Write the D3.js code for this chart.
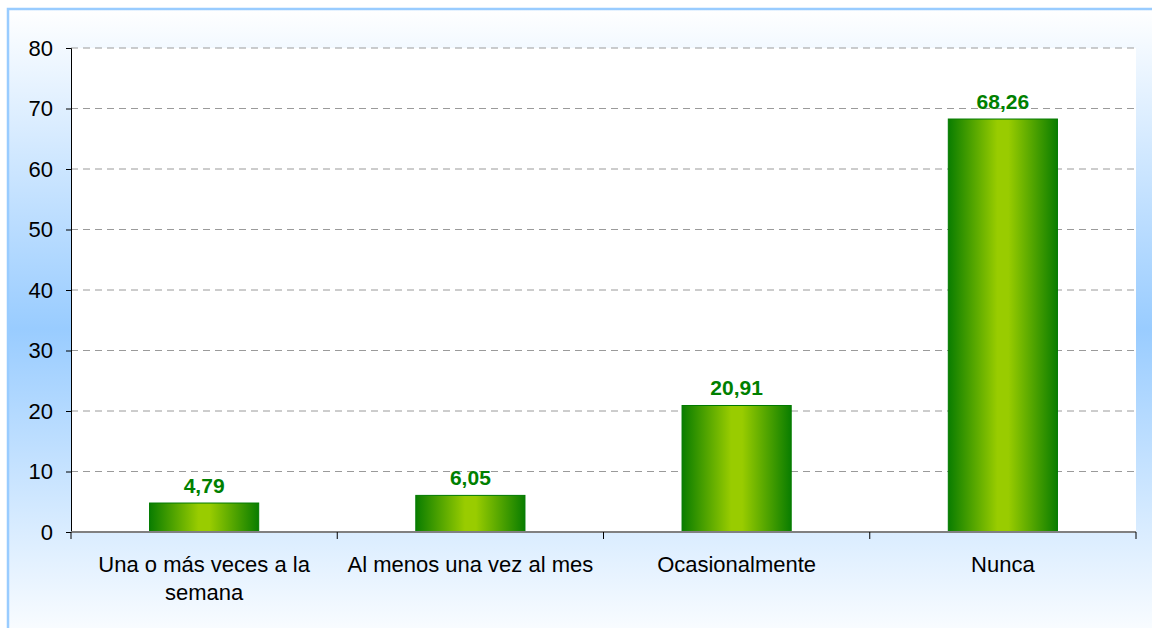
<!DOCTYPE html>
<html><head><meta charset="utf-8">
<script src="https://cdn.jsdelivr.net/npm/d3@7/dist/d3.min.js"></script>
<style>html,body{margin:0;padding:0;background:#fff;overflow:hidden}</style>
</head><body>
<svg id="chart" width="1152" height="628"></svg>
<script>
const categories = ["Una o más veces a la semana", "Al menos una vez al mes", "Ocasionalmente", "Nunca"];
const categoryLines = [["Una o más veces a la", "semana"], ["Al menos una vez al mes"], ["Ocasionalmente"], ["Nunca"]];
const values = [4.79, 6.05, 20.91, 68.26];
const valueLabels = ["4,79", "6,05", "20,91", "68,26"];
const yTicks = [0, 10, 20, 30, 40, 50, 60, 70, 80];

const svg = d3.select("#chart");
const defs = svg.append("defs");
const bg = defs.append("linearGradient").attr("id", "bg").attr("x1", 0).attr("y1", 0).attr("x2", 0).attr("y2", 1);
bg.append("stop").attr("offset", "0%").attr("stop-color", "#ffffff");
bg.append("stop").attr("offset", "50%").attr("stop-color", "#99ccff");
bg.append("stop").attr("offset", "100%").attr("stop-color", "#ffffff");
const bar = defs.append("linearGradient").attr("id", "bar").attr("x1", 0).attr("y1", 0).attr("x2", 1).attr("y2", 0);
bar.append("stop").attr("offset", "0%").attr("stop-color", "#0a7d00");
bar.append("stop").attr("offset", "45%").attr("stop-color", "#99cc00");
bar.append("stop").attr("offset", "55%").attr("stop-color", "#99cc00");
bar.append("stop").attr("offset", "100%").attr("stop-color", "#0a7d00");

// background + frame
svg.append("rect").attr("x", 0).attr("y", 0).attr("width", 1152).attr("height", 628).attr("fill", "#fff");
svg.append("rect").attr("x", 8).attr("y", 9).attr("width", 1160).attr("height", 640)
  .attr("fill", "url(#bg)").attr("stroke", "#99ccff").attr("stroke-width", 2.5);

const m = {left: 71, right: 1136, top: 48, bottom: 532};
const x = d3.scaleBand().domain(categories).range([m.left, m.right]).paddingInner(0.59).paddingOuter(0.295);
const y = d3.scaleLinear().domain([0, 80]).range([m.bottom, m.top]);

svg.append("rect").attr("x", m.left).attr("y", m.top).attr("width", m.right - m.left).attr("height", m.bottom - m.top).attr("fill", "#fff");

// gridlines
svg.append("g").selectAll("line").data(yTicks.filter(d => d > 0)).join("line")
  .attr("x1", m.left).attr("x2", m.right).attr("y1", d => y(d)).attr("y2", d => y(d))
  .attr("stroke", "#9a9a9a").attr("stroke-width", 1).attr("stroke-dasharray", "7,5");

// bars
svg.append("g").selectAll("rect").data(values).join("rect")
  .attr("x", (d, i) => x(categories[i])).attr("width", x.bandwidth())
  .attr("y", d => y(d)).attr("height", d => y(0) - y(d))
  .attr("fill", "url(#bar)").attr("stroke", "#007a00").attr("stroke-width", 1);

// value labels
svg.append("g").selectAll("text").data(values).join("text")
  .attr("x", (d, i) => x(categories[i]) + x.bandwidth() / 2).attr("y", d => y(d) - 10)
  .attr("text-anchor", "middle").attr("font-family", "Liberation Sans, Arial, sans-serif")
  .attr("font-size", 21).attr("font-weight", "bold").attr("fill", "#008000")
  .text((d, i) => valueLabels[i]);

// y axis
const yAxis = svg.append("g").attr("transform", `translate(${m.left},0)`)
  .call(d3.axisLeft(y).tickValues(yTicks).tickSize(5).tickPadding(13).tickFormat(d3.format("d")));
yAxis.select(".domain").attr("stroke", "#000").attr("stroke-width", 1);
yAxis.selectAll(".tick line").attr("stroke", "#000");
yAxis.selectAll("text").attr("font-family", "Liberation Sans, Arial, sans-serif").attr("font-size", 22).attr("fill", "#000");

// x axis line
svg.append("line").attr("x1", m.left).attr("x2", m.right).attr("y1", y(0)).attr("y2", y(0))
  .attr("stroke", "#808080").attr("stroke-width", 2);
// x ticks at band boundaries
const bounds = categories.map(c => x(c) - x.step() * x.paddingInner() / 2);
bounds.push(m.right);
svg.append("g").selectAll("line").data(bounds).join("line")
  .attr("x1", d => d).attr("x2", d => d).attr("y1", y(0)).attr("y2", y(0) + 7)
  .attr("stroke", "#000").attr("stroke-width", 1);

// category labels
const cl = svg.append("g").selectAll("text").data(categories).join("text")
  .attr("x", d => x(d) + x.bandwidth() / 2).attr("y", 572)
  .attr("text-anchor", "middle").attr("font-family", "Liberation Sans, Arial, sans-serif")
  .attr("font-size", 22).attr("fill", "#000");
cl.each(function(d, i) {
  const t = d3.select(this);
  categoryLines[i].forEach((ln, j) => {
    t.append("tspan").attr("x", x(d) + x.bandwidth() / 2).attr("dy", j === 0 ? 0 : 28).text(ln);
  });
});
</script>
</body></html>
